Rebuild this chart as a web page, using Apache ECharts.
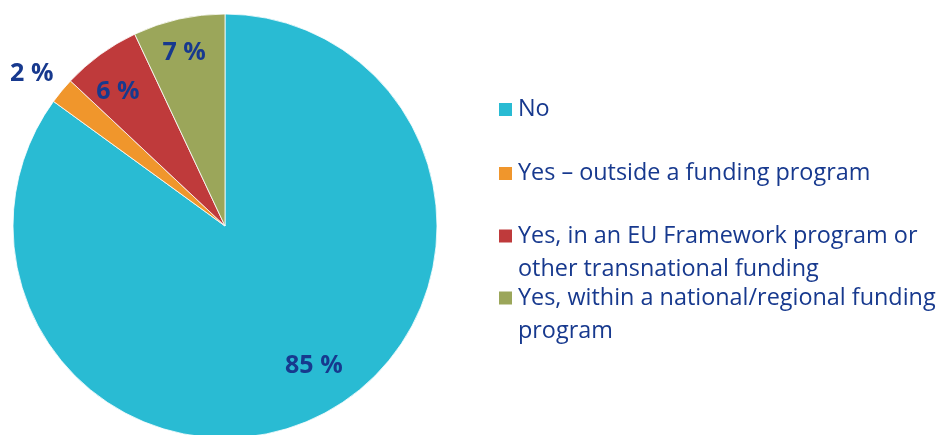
<!DOCTYPE html>
<html>
<head>
<meta charset="utf-8">
<script src="https://cdn.jsdelivr.net/npm/echarts@6/dist/echarts.min.js"></script>
<style>
  html, body { margin: 0; padding: 0; background: #fff; }
  #chart { width: 941px; height: 435px; }
</style>
</head>
<body>
<div id="chart"></div>
<script>
// Answer categories, shares (%) and slice colours
const categories = [
  'No',
  'Yes – outside a funding program',
  'Yes, in an EU Framework program or\nother transnational funding',
  'Yes, within a national/regional funding\nprogram'
];
const shares = [85, 2, 6, 7];
const sliceColors = ['#29BBD3', '#F0962C', '#BF3A3B', '#9BA65A'];

const labelColor = '#17398E';
const textFont = 'Open Sans';

// where each value label sits: fraction of the radius, turn from the slice middle (deg)
const labelSpots = [[0.78, -5.5], [1.16, -1.4], [0.81, -2.6], [0.84, -0.7]];

const pieCenter = [225, 226];
const pieRadius = 212;

const chart = echarts.init(document.getElementById('chart'));

// one legend block per category so the spacing can follow the layout;
// a leading blank line keeps the swatch level with the first text line
const legendTops = [93, 157, 186.5, 248.5];
const legends = categories.map((name, i) => {
  const multi = name.indexOf('\n') >= 0;
  return {
    data: [name],
    orient: 'vertical',
    left: 497,
    top: legendTops[i],
    padding: 0,
    itemWidth: 15,
    itemHeight: 15,
    itemGap: 0,
    icon: 'rect',
    selectedMode: false,
    formatter: n => (multi ? ' \n' : '') + n,
    textStyle: {
      fontFamily: textFont,
      fontSize: 23.4,
      color: labelColor,
      lineHeight: 33
    }
  };
});

// mid angle of each slice, clockwise from 12 o'clock, in degrees
const total = shares.reduce((a, b) => a + b, 0);
const midAngles = [];
let acc = 0;
shares.forEach(v => { midAngles.push((acc + v / 2) / total * 360); acc += v; });

chart.setOption({
  animation: false,
  legend: legends,
  series: [{
    type: 'pie',
    center: pieCenter,
    radius: pieRadius,
    startAngle: 90,
    clockwise: true,
    avoidLabelOverlap: false,
    data: categories.map((name, i) => ({
      name,
      value: shares[i],
      itemStyle: { color: sliceColors[i] }
    })),
    itemStyle: { borderColor: '#ffffff', borderWidth: 0.8 },
    label: {
      show: true,
      position: 'inside',
      formatter: p => p.value + ' %',
      fontFamily: textFont,
      fontWeight: 'bold',
      fontSize: 25,
      color: labelColor
    },
    labelLine: { show: false },
    labelLayout: p => {
      const [f, turn] = labelSpots[p.dataIndex];
      const a = (midAngles[p.dataIndex] + turn) * Math.PI / 180;
      return {
        x: pieCenter[0] + f * pieRadius * Math.sin(a),
        y: pieCenter[1] - f * pieRadius * Math.cos(a),
        align: 'center',
        verticalAlign: 'middle'
      };
    },
    emphasis: { disabled: true }
  }]
});
</script>
</body>
</html>
